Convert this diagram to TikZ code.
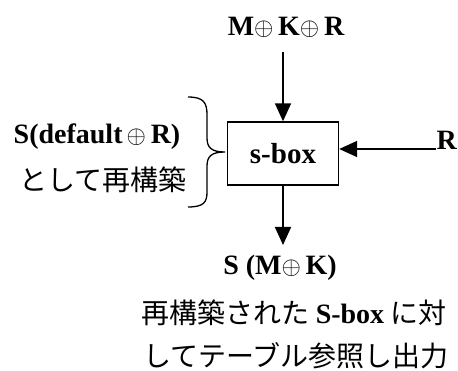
\documentclass[tikz,border=0pt]{standalone}
\usepackage{fontspec}
\setmainfont{Liberation Serif}
\newfontfamily\jp{Noto Sans CJK JP}
\usetikzlibrary{arrows.meta}
\begin{document}
\begin{tikzpicture}[x=1pt,y=-1pt,
  lat/.style={font=\fontsize{28}{32}\selectfont\bfseries, inner sep=0pt},
  jpt/.style={font=\fontsize{28}{33}\selectfont\jp, inner sep=0pt},
  boxs/.style={draw, line width=1.4pt, minimum width=111pt, minimum height=63pt, inner sep=0pt, font=\fontsize{29}{32}\selectfont\bfseries},
  arr/.style={line width=1.6pt, -{Triangle[length=18pt,width=16pt]}}]
\useasboundingbox (0,0) rectangle (458,371);
\node[boxs] (sbox) at (283,153.5) {s-box};
\node[lat] (top) at (286,27) {M$\oplus$\,K$\oplus$\,R};
\coordinate (topst) at (283,52);
\node[lat, anchor=east] (r) at (457,140) {R};
\coordinate (rst) at (436,149);
\node[lat] (s1) at (97,137) {S(default$\,\oplus$\,R)};
\node[jpt] (j1) at (103,180) {として再構築};
\node[lat] (out) at (280,268) {S (M$\oplus$\,K)};
\coordinate (botend) at (283,245);
\node[jpt] (j2) at (294,313) {再構築された {\fontsize{28}{32}\selectfont\rmfamily\bfseries S-box} に対};
\node[jpt] (j3) at (296,356) {してテーブル参照し出力};
\draw[arr] (topst) -- (sbox.north);
\draw[arr] (rst) -- (sbox.east |- rst);
\draw[arr] (sbox.south) -- (botend);
\draw[line width=1.3pt] (188,97) .. controls (204,97) and (207,103) .. (207,115) -- (207,138)
  .. controls (207,148) and (212,152) .. (225,152)
  .. controls (212,152) and (207,156) .. (207,166) -- (207,192)
  .. controls (207,202) and (204,207) .. (188,207);
\end{tikzpicture}
\end{document}
